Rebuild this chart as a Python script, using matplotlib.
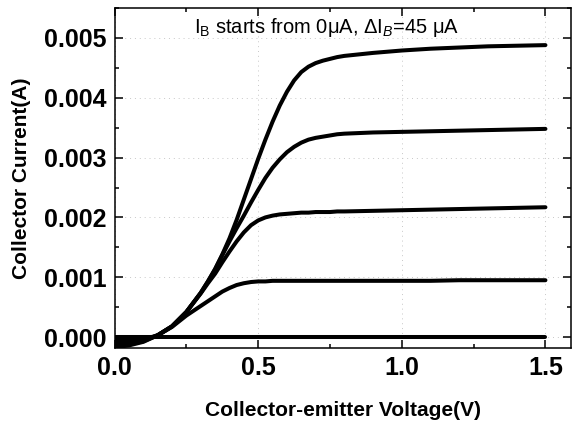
import matplotlib as mpl
import matplotlib.pyplot as plt
from matplotlib.ticker import MultipleLocator, FormatStrFormatter

mpl.rcParams.update({
    "font.family": ["Liberation Sans", "DejaVu Sans"],
    "mathtext.fontset": "custom",
    "mathtext.rm": "Liberation Sans",
    "mathtext.it": "Liberation Sans:italic",
    "mathtext.bf": "Liberation Sans:bold",
})

# collector-emitter voltage (V) sample points
V_CE = [0.00, 0.05, 0.10, 0.15, 0.20, 0.25, 0.30, 0.325, 0.35, 0.375, 0.40, 0.425,
        0.45, 0.475, 0.50, 0.525, 0.55, 0.575, 0.60, 0.625, 0.65, 0.675, 0.70, 0.725,
        0.75, 0.775, 0.80, 0.90, 1.00, 1.10, 1.20, 1.30, 1.40, 1.50]

# collector current (A) for each base current step (0, 45, 90, 135, 180 uA)
IC_0 = [0.0] * len(V_CE)
IC_45 = [-0.00005, -0.00006, -0.00004, 0.00003, 0.00017, 0.00036, 0.00052, 0.00060,
         0.00068, 0.00076, 0.00082, 0.00087, 0.00090, 0.00092, 0.00093, 0.00093,
         0.00094, 0.00094, 0.00094, 0.00094, 0.00094, 0.00094, 0.00094, 0.00094,
         0.00094, 0.00094, 0.00094, 0.00094, 0.00094, 0.00094, 0.00095, 0.00095,
         0.00095, 0.00095]
IC_90 = [-0.00010, -0.00010, -0.00006, 0.00003, 0.00018, 0.00042, 0.00073, 0.00090,
         0.00106, 0.00125, 0.00143, 0.00160, 0.00175, 0.00187, 0.00195, 0.00200,
         0.00203, 0.00205, 0.00206, 0.00207, 0.00208, 0.00208, 0.00209, 0.00209,
         0.00209, 0.00210, 0.00210, 0.00211, 0.00212, 0.00213, 0.00214, 0.00215,
         0.00216, 0.00217]
IC_135 = [-0.00014, -0.00012, -0.00007, 0.00003, 0.00018, 0.00042, 0.00074, 0.00093,
          0.00113, 0.00137, 0.00160, 0.00182, 0.00203, 0.00225, 0.00246, 0.00266,
          0.00283, 0.00297, 0.00309, 0.00318, 0.00325, 0.00330, 0.00333, 0.00335,
          0.00337, 0.00339, 0.00340, 0.00342, 0.00343, 0.00344, 0.00345, 0.00346,
          0.00347, 0.00348]
IC_180 = [-0.00017, -0.00014, -0.00008, 0.00003, 0.00018, 0.00042, 0.00074, 0.00093,
          0.00114, 0.00138, 0.00165, 0.00196, 0.00230, 0.00264, 0.00298, 0.00330,
          0.00360, 0.00387, 0.00410, 0.00429, 0.00443, 0.00452, 0.00458, 0.00462,
          0.00465, 0.00468, 0.00470, 0.00475, 0.00479, 0.00482, 0.00484, 0.00486,
          0.00487, 0.00488]
CURVES = [IC_0, IC_45, IC_90, IC_135, IC_180]

fig = plt.figure(figsize=(5.73, 4.23), dpi=100)
ax = fig.add_axes([0.200, 0.177, 0.797, 0.804])

for ic in CURVES:
    ax.plot(V_CE, ic, color="black", lw=2.9, solid_capstyle="round",
            solid_joinstyle="round", zorder=3)

ax.set_xlim(0, 1.59)
ax.set_ylim(-0.000185, 0.0055)
ax.xaxis.set_major_locator(MultipleLocator(0.5))
ax.xaxis.set_minor_locator(MultipleLocator(0.25))
ax.yaxis.set_major_locator(MultipleLocator(0.001))
ax.yaxis.set_minor_locator(MultipleLocator(0.0005))
ax.xaxis.set_major_formatter(FormatStrFormatter("%.1f"))
ax.yaxis.set_major_formatter(FormatStrFormatter("%.3f"))

ax.tick_params(which="both", direction="in", top=True, right=True, width=1.1)
ax.tick_params(which="major", length=6, labelsize=18, pad=6)
ax.tick_params(which="minor", length=3)
for lab in ax.get_xticklabels() + ax.get_yticklabels():
    lab.set_fontweight("bold")
for s in ax.spines.values():
    s.set_linewidth(1.1)

ax.grid(True, which="major", ls=(0, (1, 4)), lw=0.7, color="#c8c8c8", zorder=0)

ax.set_xlabel("Collector-emitter Voltage(V)", fontsize=15, fontweight="bold", labelpad=15)
ax.set_ylabel("Collector Current(A)", fontsize=15, fontweight="bold", labelpad=9)

ax.text(0.465, 0.978, "I$_{\\rm B}$ starts from 0\u03bcA, \u0394I$_{B}$=45 \u03bcA",
        transform=ax.transAxes, ha="center", va="top", fontsize=14.5)

fig.savefig("out.png", dpi=100)
